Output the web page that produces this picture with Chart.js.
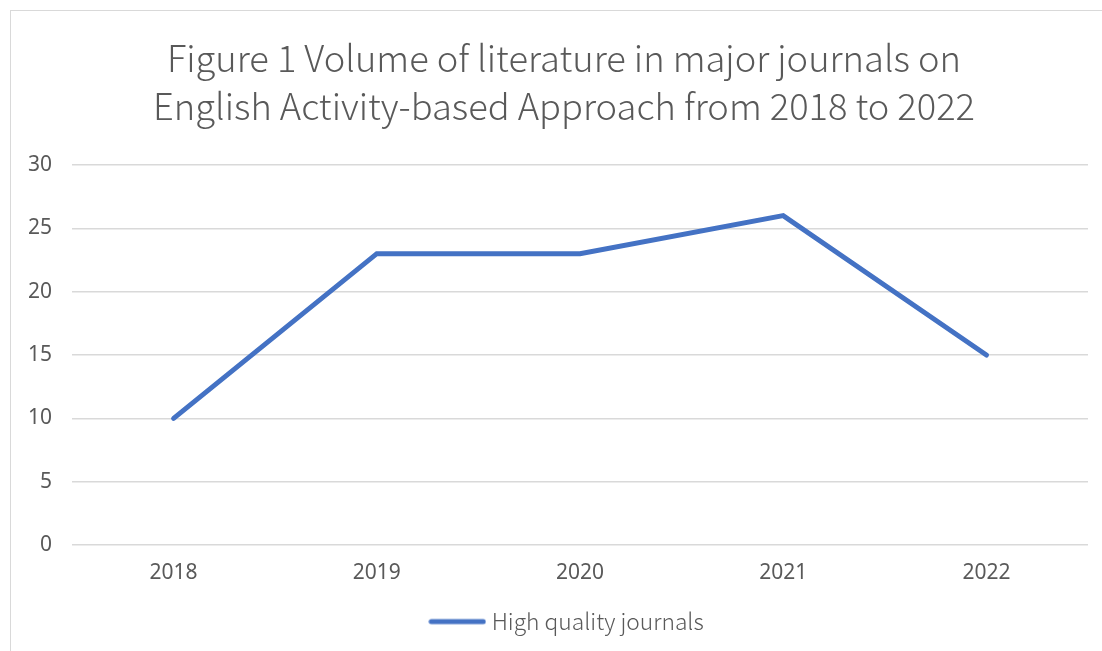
<!DOCTYPE html>
<html>
<head>
<meta charset="utf-8">
<script src="https://cdn.jsdelivr.net/npm/chart.js@4/dist/chart.umd.min.js"></script>
<style>
  body { margin: 0; background: #ffffff; overflow: hidden; }
  #frame { position: absolute; left: 10px; top: 10px; width: 1200px; height: 800px; border: 1px solid #d9d9d9; }
  #myChart { position: absolute; left: 0; top: 0; }
</style>
</head>
<body>
<div id="frame"></div>
<canvas id="myChart" width="1102" height="651"></canvas>
<script>
//Line chart of journal article counts per year

var years = ["2018", "2019", "2020", "2021", "2022"];
var articleCounts = [10, 23, 23, 26, 15];
var seriesName = "High quality journals";
var titleLines = ["Figure 1 Volume of literature in major journals on",
                  "English Activity-based Approach from 2018 to 2022"];
var yTicks = [0, 5, 10, 15, 20, 25, 30];

var textColor = "#595959";
var lineColor = "#4472c4";

//Legend swatch: a short thick line with round ends, a bit wider than its box
//so the label sits close to it
function makeSwatch() {
    var c = document.createElement("canvas");
    c.width = 58;
    c.height = 8;
    var g = c.getContext("2d");
    g.strokeStyle = lineColor;
    g.lineWidth = 5;
    g.lineCap = "round";
    g.beginPath();
    g.moveTo(3, 4);
    g.lineTo(55, 4);
    g.stroke();
    return c;
}

//Title and legend are centred on the whole frame, not on the plot,
//so nudge them right once the layout is done
var centreShift = {
    id: "centreShift",
    afterLayout: function (chart) {
        if (chart.titleBlock) {
            chart.titleBlock.left += 14;
            chart.titleBlock.right += 14;
        }
        if (chart.legend) {
            chart.legend.left += 19;
            chart.legend.right += 19;
        }
    }
};

var infoChart = new Chart("myChart", {
    type: "line",
    data: {
        labels: years,
        datasets: [{
            label: seriesName,
            data: articleCounts,
            borderColor: lineColor,
            backgroundColor: lineColor,
            borderWidth: 5,
            borderCapStyle: "round",
            borderJoinStyle: "miter",
            pointRadius: 0,
            pointStyle: makeSwatch(),
            tension: 0
        }]
    },
    plugins: [centreShift],
    options: {
        responsive: false,
        animation: false,
        layout: { padding: { top: 0, left: 12, right: 14, bottom: 8 } },
        plugins: {
            title: {
                display: true,
                text: titleLines,
                color: textColor,
                font: { family: "'Noto Sans CJK SC', 'Noto Sans'", size: 36.3, weight: 300, lineHeight: 48 / 36.3 },
                padding: { top: 34, bottom: 35 }
            },
            legend: {
                position: "bottom",
                labels: {
                    color: textColor,
                    font: { family: "'Noto Sans CJK SC', 'Noto Sans'", size: 22.8, weight: 300 },
                    usePointStyle: true,
                    pointStyleWidth: 46,
                    boxHeight: 20,
                    padding: 10
                }
            },
            tooltip: { enabled: false }
        },
        scales: {
            x: {
                offset: true,
                grid: { display: false, drawTicks: false },
                border: { display: false },
                ticks: { color: textColor, font: { family: "'Noto Sans'", size: 21 }, padding: 15 }
            },
            y: {
                min: 0,
                max: 30,
                afterFit: function (scale) { scale.width = 60; },
                afterBuildTicks: function (scale) {
                    scale.ticks = yTicks.map(function (v) { return { value: v }; });
                },
                grid: { color: "#d9d9d9", lineWidth: 1.5, drawTicks: false },
                border: { display: false },
                ticks: { color: textColor, font: { family: "'Noto Sans'", size: 21 }, padding: 20 }
            }
        }
    }
});
</script>
</body>
</html>
